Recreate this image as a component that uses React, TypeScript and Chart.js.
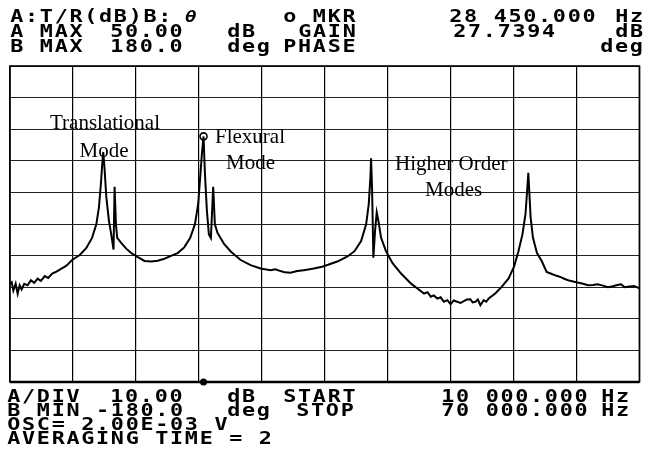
import React, { useEffect, useRef } from "react";
import { Chart, registerables } from "chart.js";

Chart.register(...registerables);

// Trace A: transmissibility T/R (dB) vs frequency (kHz)
const freqKHz = [
  10.00, 10.16, 10.32, 10.54, 10.73, 10.92, 11.11, 11.36, 11.68, 11.99,
  12.31, 12.63, 12.94, 13.32, 13.64, 14.02, 14.43, 14.91, 15.38, 15.92,
  16.65, 17.28, 17.82, 18.23, 18.48, 18.67, 18.80, 18.89, 19.02, 19.18,
  19.43, 19.65, 19.87, 19.97, 20.10, 20.22, 20.60, 21.08, 21.55, 22.18,
  22.82, 23.45, 24.08, 24.72, 25.35, 25.98, 26.61, 27.18, 27.63, 27.94,
  28.16, 28.30, 28.45, 28.58, 28.77, 28.96, 29.15, 29.37, 29.53, 29.78,
  30.41, 31.04, 31.99, 32.94, 33.89, 34.84, 35.30, 35.79, 36.20, 36.74,
  37.37, 38.01, 38.96, 39.75, 40.32, 41.26, 42.21, 42.84, 43.47, 43.95,
  44.20, 44.36, 44.42, 44.52, 44.64, 44.80, 44.96, 45.12, 45.37, 45.84,
  46.47, 47.26, 48.21, 48.84, 49.47, 49.80, 50.11, 50.40, 50.74, 51.05,
  51.37, 51.70, 52.00, 52.30, 52.63, 52.95, 53.26, 53.55, 53.89, 54.10,
  54.37, 54.60, 54.84, 55.16, 55.40, 55.63, 56.26, 56.89, 57.53, 58.06,
  58.47, 58.85, 59.14, 59.30, 59.41, 59.50, 59.63, 59.85, 60.23, 60.70,
  61.00, 61.16, 61.47, 62.11, 62.50, 62.89, 63.30, 63.68, 64.10, 64.63,
  65.10, 65.58, 66.00, 66.53, 67.00, 67.47, 67.90, 68.26, 68.60, 69.05,
  69.50, 70.00,
];

const gainDB = [
  -18.9, -18.4, -21.1, -18.9, -22.1, -19.4, -20.7, -18.9, -19.4, -17.8,
  -18.6, -17.3, -18.0, -16.5, -17.1, -15.7, -15.1, -14.1, -13.2, -11.4,
  -9.8, -7.6, -4.4, -0.1, 5.3, 12.9, 19.3, 22.8, 17.2, 8.6,
  1.0, -3.3, -8.1, 11.8, -0.1, -4.4, -6.0, -7.8, -9.2, -10.5,
  -11.7, -11.9, -11.6, -11.0, -10.1, -9.2, -7.4, -4.4, -0.1, 6.4,
  16.1, 22.5, 27.7, 16.1, 4.2, -3.3, -4.4, 11.8, -0.1, -2.8,
  -6.3, -8.7, -11.4, -13.0, -14.1, -14.6, -14.3, -14.9, -15.3, -15.4,
  -14.9, -14.6, -14.1, -13.5, -12.9, -11.8, -10.2, -8.6, -5.4, -0.1,
  6.3, 14.9, 20.8, 10.6, -10.7, -2.2, 3.7, 1.0, -4.3, -8.6,
  -12.4, -15.6, -18.8, -20.4, -22.0, -21.6, -23.0, -22.6, -23.6, -23.2,
  -24.6, -24.1, -25.4, -24.2, -24.6, -25.0, -24.4, -23.9, -23.8, -24.8,
  -24.6, -23.9, -25.7, -24.1, -24.6, -23.6, -22.0, -19.8, -17.2, -13.4,
  -8.6, -3.3, 3.1, 10.6, 16.2, 10.6, 2.1, -4.3, -9.1, -11.8,
  -14.0, -15.2, -15.6, -16.4, -16.8, -17.4, -17.9, -18.2, -18.5, -18.9,
  -19.4, -19.3, -19.1, -19.5, -20.0, -19.7, -19.3, -19.1, -20.0, -19.8,
  -19.6, -20.4,
];

const markerFreq = [28.45];
const markerGain = [27.7394];

const startKHz = 10;
const stopKHz = 70;
const aMaxDB = 50;
const aDivDB = 10;
const divisions = 10;

// Screen annotation text (header/footer of analyzer display)
const headerTokens: [string, number, number][] = [
  ["A:T/R(dB)B:", 11, 0], ["o MKR", 284, 0], ["28 450.000", 450, 0], ["Hz", 616, 0],
  ["A MAX", 11, 1], ["50.00", 111, 1], ["dB", 228, 1], ["GAIN", 299, 1], ["27.7394", 454, 1], ["dB", 616, 1],
  ["B MAX", 11, 2], ["180.0", 111, 2], ["deg", 228, 2], ["PHASE", 284, 2], ["deg", 601, 2],
];
const footerTokens: [string, number, number][] = [
  ["A/DIV", 8, 0], ["10.00", 111, 0], ["dB", 228, 0], ["START", 284, 0], ["10 000.000", 442, 0], ["Hz", 602, 0],
  ["B MIN -180.0", 8, 1], ["deg", 228, 1], ["STOP", 297, 1], ["70 000.000", 442, 1], ["Hz", 602, 1],
  ["OSC= 2.00E-03 V", 8, 2],
  ["AVERAGING TIME = 2", 8, 3],
];
const modeLabels: [string, number, number, string][] = [
  ["Translational", 105, 129, "center"],
  ["Mode", 104, 157, "center"],
  ["Flexural", 215, 143, "left"],
  ["Mode", 226, 169, "left"],
  ["Higher Order", 395, 170, "left"],
  ["Modes", 425, 196, "left"],
];

const ADV = 14.8;
const MONO = "bold 17px 'DejaVu Sans Mono'";

function drawMono(ctx: CanvasRenderingContext2D, text: string, x: number, y: number, font = MONO) {
  ctx.font = font;
  ctx.textAlign = "center";
  ctx.textBaseline = "alphabetic";
  for (let i = 0; i < text.length; i++) {
    const ch = text[i];
    if (ch === " ") continue;
    ctx.save();
    ctx.translate(x + i * ADV + 5.8, y);
    ctx.scale(1.28, 1);
    ctx.fillText(ch, 0, 0);
    ctx.restore();
  }
}

const screenPlugin = {
  id: "screenPlugin",
  beforeDraw(chart: any) {
    const ctx = chart.ctx as CanvasRenderingContext2D;
    ctx.save();
    ctx.fillStyle = "#ffffff";
    ctx.fillRect(0, 0, chart.width, chart.height);
    ctx.restore();
  },
  beforeDatasetsDraw(chart: any) {
    const ctx = chart.ctx as CanvasRenderingContext2D;
    const a = chart.chartArea;
    ctx.save();
    ctx.strokeStyle = "#000";
    ctx.lineWidth = 1.6;
    ctx.strokeRect(a.left, a.top, a.right - a.left, a.bottom - a.top);
    ctx.lineWidth = 2.4;
    ctx.beginPath();
    ctx.moveTo(a.left, a.bottom);
    ctx.lineTo(a.right, a.bottom);
    ctx.stroke();
    ctx.restore();
  },
  afterDraw(chart: any) {
    const ctx = chart.ctx as CanvasRenderingContext2D;
    const xs = chart.scales.x;
    const ys = chart.scales.y;
    ctx.save();
    ctx.fillStyle = "#000";
    const headerBase = [22, 37, 52];
    headerTokens.forEach(([t, x, l]) => drawMono(ctx, t, x, headerBase[l]));
    drawMono(ctx, "θ", 185, headerBase[0], "italic bold 15px 'DejaVu Sans Mono'");
    const footerBase = [402, 416, 430, 444];
    footerTokens.forEach(([t, x, l]) => drawMono(ctx, t, x, footerBase[l]));

    ctx.font = "21px 'Liberation Serif'";
    ctx.textBaseline = "alphabetic";
    modeLabels.forEach(([t, x, y, al]) => {
      ctx.textAlign = al as CanvasTextAlign;
      ctx.fillText(t, x, y);
    });

    // marker dot at bottom (phase trace marker)
    const mx = xs.getPixelForValue(markerFreq[0]);
    const my = ys.getPixelForValue(-aMaxDB);
    ctx.beginPath();
    ctx.arc(mx, my, 3.5, 0, Math.PI * 2);
    ctx.fill();
    ctx.restore();
  },
};

export default function App() {
  const ref = useRef<HTMLCanvasElement | null>(null);
  useEffect(() => {
    if (!ref.current) return;
    const trace = freqKHz.map((f, i) => ({ x: f, y: gainDB[i] }));
    const marker = markerFreq.map((f, i) => ({ x: f, y: markerGain[i] }));
    const chart = new Chart(ref.current, {
      type: "scatter",
      data: {
        datasets: [
          {
            data: trace,
            showLine: true,
            borderColor: "#000",
            borderWidth: 2,
            pointRadius: 0,
            tension: 0,
          },
          {
            data: marker,
            showLine: false,
            pointRadius: 3.5,
            pointBorderColor: "#000",
            pointBorderWidth: 1.6,
            pointBackgroundColor: "#fff",
          },
        ],
      },
      options: {
        animation: false,
        responsive: false,
        devicePixelRatio: 1,
        layout: { padding: { left: 10, top: 66, right: 2, bottom: 75 } },
        plugins: { legend: { display: false }, tooltip: { enabled: false } },
        scales: {
          x: {
            type: "linear",
            min: startKHz,
            max: stopKHz,
            ticks: { display: false, stepSize: (stopKHz - startKHz) / divisions },
            grid: { color: "#000", lineWidth: 1.2, drawTicks: false },
            border: { display: false },
          },
          y: {
            type: "linear",
            min: aMaxDB - aDivDB * divisions,
            max: aMaxDB,
            ticks: { display: false, stepSize: aDivDB },
            grid: { color: "#222", lineWidth: 1, drawTicks: false },
            border: { display: false },
          },
        },
      },
      plugins: [screenPlugin],
    });
    return () => chart.destroy();
  }, []);
  return (
    <div style={{ position: "absolute", left: 0, top: 0, width: 645, height: 457, background: "#fff" }}>
      <canvas ref={ref} width={645} height={457} style={{ width: 645, height: 457, display: "block" }} />
    </div>
  );
}
